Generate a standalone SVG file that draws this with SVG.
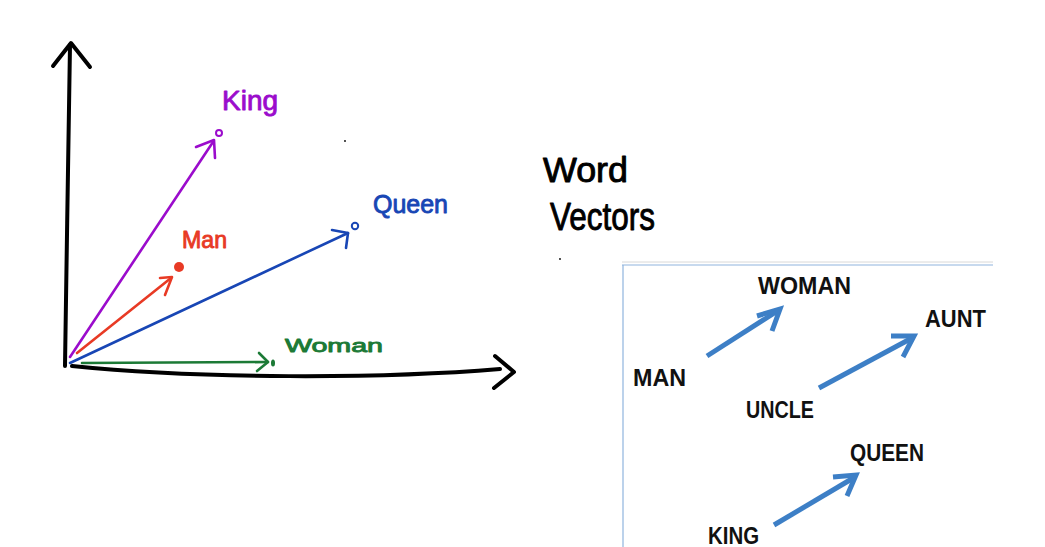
<svg xmlns="http://www.w3.org/2000/svg" width="1045" height="547" viewBox="0 0 1045 547">
<style>
.hand{fill:none;stroke-linecap:round;stroke-linejoin:round}
.ax{stroke:#000;stroke-width:4}
.vec{stroke-width:2.6}
.hw{font-family:"Liberation Sans",Arial,sans-serif;stroke-width:0.9;stroke-linejoin:round}
.lbl{font-family:"Liberation Sans",Arial,sans-serif;font-weight:bold;font-size:23.5px;fill:#111}
.barrow{fill:none;stroke:#3d7fc6;stroke-width:5;stroke-linecap:butt;stroke-linejoin:miter}
</style>
<rect width="1045" height="547" fill="#fff"/>
<g id="axes">
<path class="hand ax" d="M70,45 C69,150 66,260 65,366"/>
<path class="hand ax" d="M53,66 L71,43 L90,67"/>
<path class="hand ax" d="M72,366 C200,379 380,379 500,369"/>
<path class="hand ax" d="M495,356 L514,372 L494,388"/>
</g>
<g id="connectors">
<path class="hand vec" stroke="#9b0ccc" d="M70,357 L213,142"/>
<path class="hand vec" stroke="#9b0ccc" d="M196,147 L214,140 L215,158"/>
<path class="hand vec" stroke="#e83a25" d="M77,353 L171,278"/>
<path class="hand vec" stroke="#e83a25" d="M160,278 L172,277 L165,295"/>
<path class="hand vec" stroke="#1846b5" d="M70,363 Q200,302 348,233"/>
<path class="hand vec" stroke="#1846b5" d="M332,230 L348,233 L346,248"/>
<path class="hand vec" stroke="#1c7a36" d="M82,363 L268,362"/>
<path class="hand vec" stroke="#1c7a36" d="M259,353 L268,362 L257,371"/>
<path class="barrow" d="M707,356 L779,310"/>
<path class="barrow" d="M757,316 L780,309 L772,331"/>
<path class="barrow" d="M819,388 L912,338"/>
<path class="barrow" d="M891,336 L914,336 L903,357"/>
<path class="barrow" d="M774,525 L855,477"/>
<path class="barrow" d="M833,477 L856,475 L847,496"/>
</g>
<g id="king">
<circle cx="219" cy="133" r="3" fill="#fff" stroke="#9b0ccc" stroke-width="2"/>
<text class="hw" x="222" y="110" font-size="28" fill="#9b0ccc" stroke="#9b0ccc" textLength="56" lengthAdjust="spacingAndGlyphs">King</text>
</g>
<g id="man">
<circle cx="179" cy="267" r="5" fill="#e83a25"/>
<text class="hw" x="182" y="248" font-size="24" fill="#e83a25" stroke="#e83a25" textLength="45" lengthAdjust="spacingAndGlyphs">Man</text>
</g>
<g id="queen">
<circle cx="355" cy="226" r="3.2" fill="#fff" stroke="#1846b5" stroke-width="2"/>
<text class="hw" x="373" y="213" font-size="26" fill="#1846b5" stroke="#1846b5" textLength="75" lengthAdjust="spacingAndGlyphs">Queen</text>
</g>
<g id="woman">
<ellipse cx="273" cy="363" rx="2" ry="3.5" fill="#1c7a36"/>
<text class="hw" x="285" y="352" font-size="19" fill="#1c7a36" stroke="#1c7a36" textLength="98" lengthAdjust="spacingAndGlyphs">Woman</text>
</g>
<g id="title">
<text class="hw" x="543" y="182" font-size="35" fill="#000" stroke="#000" textLength="85" lengthAdjust="spacingAndGlyphs">Word</text>
<text class="hw" x="550" y="230" font-size="38" fill="#000" stroke="#000" textLength="105" lengthAdjust="spacingAndGlyphs">Vectors</text>
<circle cx="345" cy="141" r="0.9" fill="#000"/>
<circle cx="560" cy="259" r="0.9" fill="#000"/>
</g>
<g id="panel">
<line x1="622" y1="262" x2="993" y2="262" stroke="#d8d8d8" stroke-width="1"/>
<line x1="622" y1="265" x2="993" y2="265" stroke="#8fb4de" stroke-width="1.2"/>
<line x1="623" y1="265" x2="623" y2="547" stroke="#8fb4de" stroke-width="1.2"/>
</g>
<g id="n-woman"><text class="lbl" x="758" y="294" textLength="93" lengthAdjust="spacingAndGlyphs">WOMAN</text></g>
<g id="n-aunt"><text class="lbl" x="925" y="327" textLength="61" lengthAdjust="spacingAndGlyphs">AUNT</text></g>
<g id="n-man"><text class="lbl" x="633" y="386" textLength="53" lengthAdjust="spacingAndGlyphs">MAN</text></g>
<g id="n-uncle"><text class="lbl" x="746" y="418" textLength="68" lengthAdjust="spacingAndGlyphs">UNCLE</text></g>
<g id="n-queen"><text class="lbl" x="850" y="461" textLength="74" lengthAdjust="spacingAndGlyphs">QUEEN</text></g>
<g id="n-king"><text class="lbl" x="708" y="544" textLength="51" lengthAdjust="spacingAndGlyphs">KING</text></g>
</svg>
